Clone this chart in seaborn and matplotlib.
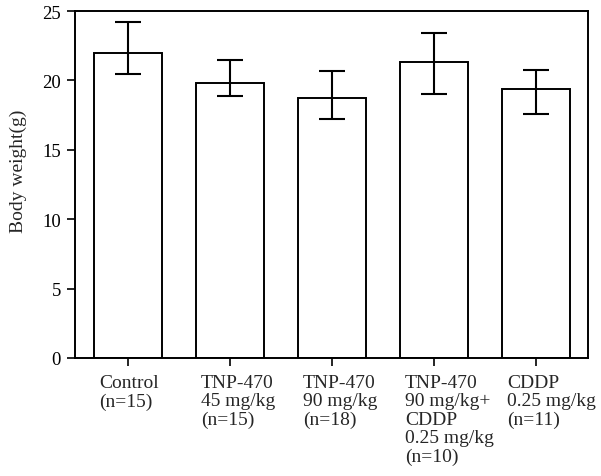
import matplotlib
matplotlib.use("Agg")
import matplotlib.pyplot as plt
import matplotlib.transforms as mtransforms
import seaborn as sns
import pandas as pd
import numpy as np

groups = ["Control\n(n=15)",
          "TNP-470\n45 mg/kg\n(n=15)",
          "TNP-470\n90 mg/kg\n(n=18)",
          "TNP-470\n90 mg/kg+\nCDDP\n0.25 mg/kg\n(n=10)",
          "CDDP\n0.25 mg/kg\n(n=11)"]
means = [22.0, 19.8, 18.75, 21.3, 19.35]
err_low = [1.55, 0.95, 1.55, 2.3, 1.75]
err_high = [2.2, 1.7, 1.9, 2.1, 1.4]
yticks = [0, 5, 10, 15, 20, 25]

sns.set_style("ticks")
plt.rcParams['font.family'] = ['Liberation Serif', 'DejaVu Serif']

df = pd.DataFrame({"group": groups, "mean": means})

fig = plt.figure(figsize=(6.01, 4.77), dpi=100)
ax = fig.add_axes([0.1248, 0.2474, 0.978 - 0.1248, 0.9748 - 0.2474])

sns.barplot(data=df, x="group", y="mean", ax=ax, color="white",
            edgecolor="black", linewidth=1.4, width=0.667, errorbar=None,
            saturation=1)
for p in ax.patches:
    p.set_facecolor("white")
    p.set_edgecolor("black")

ax.errorbar(np.arange(len(means)), means, yerr=[err_low, err_high],
            fmt="none", ecolor="black", elinewidth=1.5, capsize=9.4,
            capthick=1.5)

ax.set_xlim(-0.52, 4.51)
ax.set_ylim(0, 25)
ax.set_yticks(yticks)
ax.set_yticklabels([str(v) for v in yticks], fontsize=13.5)
ax.set_xlabel("")
ax.set_ylabel("Body weight(g)", fontsize=14)
ax.yaxis.set_label_coords(-0.094, 0.54)

ax.set_xticks(range(len(groups)))
ax.set_xticklabels([])
offset = mtransforms.ScaledTranslation(-29 / 100, -16 / 100, fig.dpi_scale_trans)
trans = ax.get_xaxis_transform() + offset
for i, g in enumerate(groups):
    ax.text(i, 0, g, transform=trans, fontsize=14, ha="left", va="top",
            multialignment="left", linespacing=1.1)

ax.tick_params(axis="both", direction="out", length=6, width=1.2,
               colors="black", pad=4)

for s in ax.spines.values():
    s.set_visible(True)
    s.set_linewidth(1.4)
    s.set_color("black")

fig.savefig("out.png", dpi=100)
